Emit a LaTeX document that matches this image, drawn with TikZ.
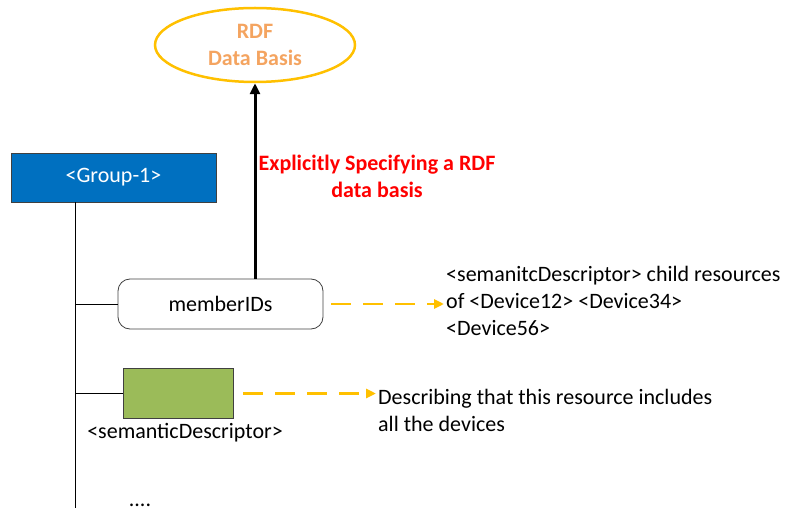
\documentclass[tikz,border=0pt]{standalone}
\usepackage{fontspec}
\setmainfont{Carlito}
\usetikzlibrary{arrows.meta,positioning,shapes.geometric}
\definecolor{grpblue}{HTML}{0070C0}
\definecolor{descgreen}{HTML}{9BBB59}
\definecolor{rdfgold}{HTML}{FFC000}
\definecolor{rdforange}{HTML}{F4A460}
\definecolor{boxedge}{HTML}{404040}

\begin{document}
\begin{tikzpicture}[x=1bp,y=-1bp,font=\fontsize{22bp}{27bp}\selectfont,
    resbox/.style={draw=boxedge,line width=0.8bp,minimum width=205bp,minimum height=49bp},
    goldarrow/.style={draw=rdfgold,line width=2.5bp,dash pattern=on 20bp off 12bp,-{Triangle[length=10bp,width=9bp]}},
    note/.style={anchor=west,align=left,inner sep=2bp}]
    \useasboundingbox (0,0) rectangle (785,512);
    % RDF data basis
    \node[ellipse,draw=rdfgold,line width=2.5bp,minimum width=200bp,minimum height=74bp,
      text=rdforange,font=\fontsize{22bp}{27bp}\selectfont\bfseries,align=center] (rdf) at (255,45) {RDF\\Data Basis};
    % group resource tree
    \node[resbox,fill=grpblue,text=white] (grp) at (113.5,177.5) {<Group-1>};
    \node[resbox,rounded corners=12bp,minimum height=50bp] (memb) at (220.5,304) {memberIDs};
    \node[draw=boxedge,line width=0.8bp,fill=descgreen,minimum width=110bp,minimum height=50bp] (sdesc) at (178,393.5) {};
    \node[below=1bp of sdesc,xshift=7bp] (sdlabel) {<semanticDescriptor>};
    \node (more) at (140,505) {....};
    \coordinate (trunk) at (75,508);
    \draw[line width=0.8bp] (grp.south -| trunk) -- (trunk);
    \draw[line width=0.8bp] (memb.west -| trunk) -- (memb.west);
    \draw[line width=0.8bp] (sdesc.west -| trunk) -- (sdesc.west);
    % link to the RDF data basis
    \draw[line width=3bp,-{Triangle[length=11bp,width=10bp]}] (rdf.south |- memb.north) -- (rdf.south);
    \node[text=red,font=\fontsize{22bp}{27bp}\selectfont\bfseries,align=center] (explabel) at (377,176) {Explicitly Specifying a RDF\\data basis};
    % notes
    \node[note] (note1) at (444,301) {<semanitcDescriptor> child resources\\of <Device12> <Device34>\\<Device56>};
    \node[note] (note2) at (376,410) {Describing that this resource includes\\all the devices};
    \draw[goldarrow] ([xshift=8bp]memb.east) -- (memb.east -| note1.west);
    \draw[goldarrow] ([xshift=10bp]sdesc.east) -- (sdesc.east -| note2.west);
\end{tikzpicture}
\end{document}
